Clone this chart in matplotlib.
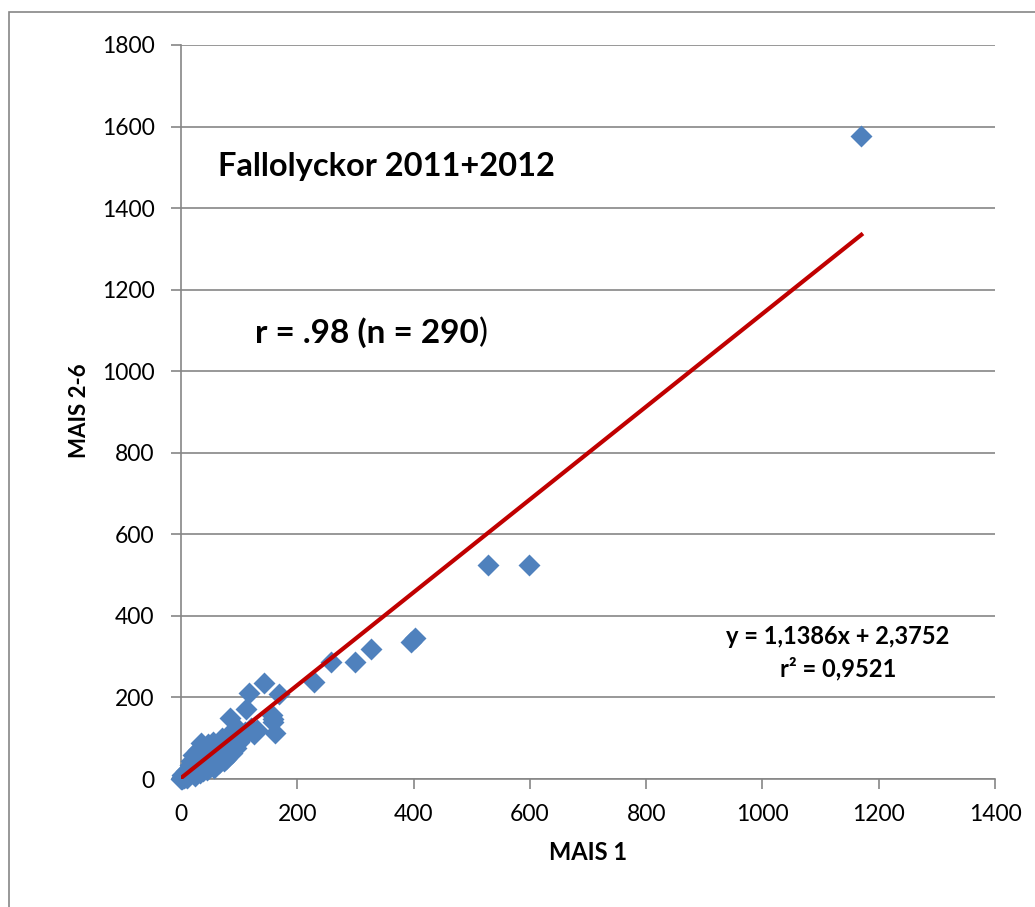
import matplotlib
matplotlib.use("Agg")
import matplotlib.pyplot as plt
from matplotlib.patches import Rectangle

plt.rcParams['font.family'] = ['Lato', 'DejaVu Sans']

# MAIS 1 (x) vs MAIS 2-6 (y)
mais1 = [0, 1, 2, 3, 5, 4, 6, 8, 2, 10, 7, 12, 15, 1, 9, 14, 5, 11,
         18, 20, 22, 25, 18, 20, 25, 28, 30, 30, 32, 35, 35, 38, 40, 40, 26, 22, 33, 28, 38, 15, 24,
         42, 45, 45, 48, 50, 50, 52, 55, 55, 58, 60, 60, 62, 65, 65, 68, 70, 70, 44, 57, 63, 47,
         72, 75, 75, 78, 80, 80, 82, 85, 85, 88, 90, 92, 95, 98, 100, 100, 74,
         105, 110, 112, 117, 120, 125, 128, 130, 143, 156, 158, 159, 162, 168,
         229, 258, 299, 326, 395, 402, 528, 599, 1170]
mais26 = [0, 2, 1, 5, 3, 8, 6, 4, 10, 12, 15, 8, 18, 6, 20, 10, 12, 3,
          25, 15, 30, 20, 45, 60, 50, 35, 25, 70, 45, 88, 30, 55, 40, 75, 65, 40, 15, 55, 20, 35, 8,
          60, 35, 70, 50, 80, 30, 65, 45, 90, 60, 35, 75, 50, 85, 40, 60, 100, 55, 22, 28, 68, 85,
          75, 90, 60, 50, 70, 95, 110, 150, 80, 65, 95, 115, 75, 105, 90, 120, 45,
          100, 115, 171, 210, 125, 110, 116, 120, 236, 157, 148, 140, 113, 208,
          239, 288, 286, 320, 337, 347, 524, 524, 1576]

# Excel linear trendline
slope = 1.1386
intercept = 2.3752
eq_text = "y = 1,1386x + 2,3752"
r2_text = "r² = 0,9521"

xticks = [0, 200, 400, 600, 800, 1000, 1200, 1400]
yticks = [0, 200, 400, 600, 800, 1000, 1200, 1400, 1600, 1800]

grey = '#868686'

fig = plt.figure(figsize=(10.35, 9.07), dpi=100)
fig.patches.append(Rectangle((9 / 1035, -0.1), 1.2, 1.1 - 12 / 907,
                             transform=fig.transFigure, fill=False,
                             edgecolor=grey, linewidth=1.2))
ax = fig.add_axes([0.1749, 0.1411, 0.7865, 0.8093])

ax.scatter(mais1, mais26, marker='D', s=125, color='#4F81BD', zorder=3,
           linewidths=0, clip_on=False)

x0, x1 = 0, max(mais1)
ax.plot([x0, x1], [slope * x0 + intercept, slope * x1 + intercept],
        color='#C00000', linewidth=3, zorder=4)

ax.set_xlim(0, 1400)
ax.set_ylim(0, 1800)
ax.set_xticks(xticks)
ax.set_yticks(yticks)
ax.tick_params(axis='both', labelsize=16.5, color=grey, length=7, width=1.2)
ax.tick_params(axis='y', pad=12)
ax.tick_params(axis='x', pad=11)
ax.grid(axis='y', color=grey, linewidth=1.2)
ax.set_axisbelow(True)
for side in ['top', 'right']:
    ax.spines[side].set_visible(False)
for side in ['left', 'bottom']:
    ax.spines[side].set_color(grey)
    ax.spines[side].set_linewidth(1.2)

fig.text(588 / 1035, 1 - 853 / 907, "MAIS 1", fontsize=17, fontweight='bold',
         ha='center', va='center')
fig.text(79 / 1035, 1 - 411 / 907, "MAIS 2-6", fontsize=16, fontweight='bold',
         ha='center', va='center', rotation=90)

ax.text(0.0455, 0.834, "Fallolyckor 2011+2012", transform=ax.transAxes,
        fontsize=23.5, fontweight='bold', ha='left', va='center')
r_txt = ax.text(0.0909, 0.6076, "r = .98 (n = 290", transform=ax.transAxes,
                fontsize=24, fontweight='bold', ha='left', va='center')
ax.annotate(")", xy=(1, 0.5), xycoords=r_txt, fontsize=24,
            ha='left', va='center')
ax.text(0.807, 0.1935, eq_text, transform=ax.transAxes,
        fontsize=17, fontweight='bold', ha='center', va='center')
ax.text(0.807, 0.15, r2_text, transform=ax.transAxes,
        fontsize=17, fontweight='bold', ha='center', va='center')

fig.savefig("out.png", dpi=100)
